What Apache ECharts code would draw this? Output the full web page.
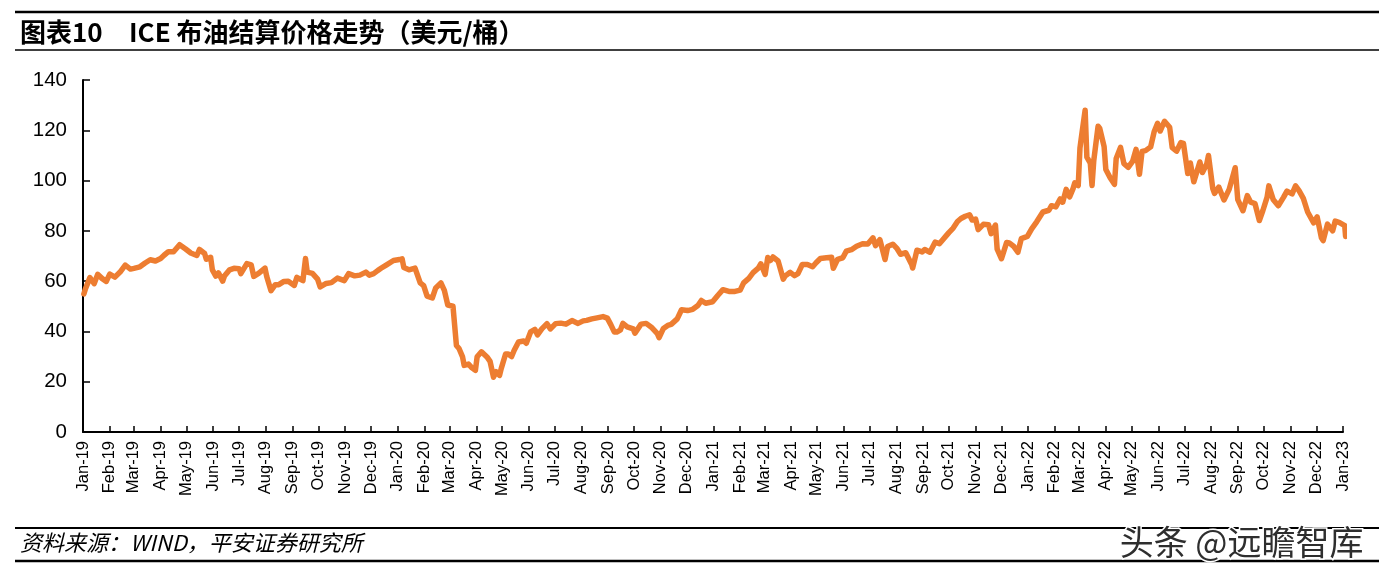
<!DOCTYPE html>
<html>
<head>
<meta charset="utf-8">
<script src="https://cdn.jsdelivr.net/npm/echarts@6/dist/echarts.min.js"></script>
<style>
html,body{margin:0;padding:0;background:#fff;}
#chart{width:1379px;height:574px;}
</style>
</head>
<body>
<div id="chart"></div>
<script>
const titleLead = '图表10';
const titleText = 'ICE 布油结算价格走势（美元/桶）';
const sourceText = '资料来源：WIND，平安证券研究所';
const watermarkText = '头条 @远瞻智库';
const seriesName = 'ICE布油结算价';

const monthLabels = ['Jan-19','Feb-19','Mar-19','Apr-19','May-19','Jun-19','Jul-19','Aug-19','Sep-19','Oct-19','Nov-19','Dec-19',
'Jan-20','Feb-20','Mar-20','Apr-20','May-20','Jun-20','Jul-20','Aug-20','Sep-20','Oct-20','Nov-20','Dec-20',
'Jan-21','Feb-21','Mar-21','Apr-21','May-21','Jun-21','Jul-21','Aug-21','Sep-21','Oct-21','Nov-21','Dec-21',
'Jan-22','Feb-22','Mar-22','Apr-22','May-22','Jun-22','Jul-22','Aug-22','Sep-22','Oct-22','Nov-22','Dec-22','Jan-23'];

const yTicks = [0,20,40,60,80,100,120,140];

const dates = [
'2019-01-02','2019-01-04','2019-01-09','2019-01-14','2019-01-18','2019-01-23','2019-01-28','2019-02-01','2019-02-07','2019-02-13','2019-02-19','2019-02-25',
'2019-03-01','2019-03-08','2019-03-14','2019-03-20','2019-03-26','2019-04-01','2019-04-05','2019-04-10','2019-04-16','2019-04-23','2019-04-25','2019-04-30',
'2019-05-06','2019-05-13','2019-05-16','2019-05-22','2019-05-24','2019-05-29','2019-05-31','2019-06-04','2019-06-07','2019-06-12','2019-06-14','2019-06-20','2019-06-25',
'2019-07-01','2019-07-03','2019-07-10','2019-07-15','2019-07-18','2019-07-24','2019-07-31','2019-08-02','2019-08-07','2019-08-12','2019-08-16','2019-08-22','2019-08-27',
'2019-09-03','2019-09-06','2019-09-13','2019-09-16','2019-09-18','2019-09-24','2019-09-30','2019-10-03','2019-10-10','2019-10-16','2019-10-23','2019-10-31',
'2019-11-05','2019-11-12','2019-11-18','2019-11-25','2019-11-29','2019-12-04','2019-12-09','2019-12-13','2019-12-19','2019-12-27',
'2020-01-03','2020-01-06','2020-01-08','2020-01-14','2020-01-21','2020-01-27','2020-01-31','2020-02-04','2020-02-10','2020-02-14','2020-02-20','2020-02-24','2020-02-28',
'2020-03-05','2020-03-09','2020-03-12','2020-03-16','2020-03-18','2020-03-23','2020-03-27','2020-03-31','2020-04-02','2020-04-07','2020-04-09','2020-04-14','2020-04-17',
'2020-04-21','2020-04-24','2020-04-28','2020-04-30','2020-05-05','2020-05-08','2020-05-12','2020-05-15','2020-05-20','2020-05-26','2020-05-29',
'2020-06-03','2020-06-08','2020-06-11','2020-06-16','2020-06-22','2020-06-26','2020-07-02','2020-07-08','2020-07-14','2020-07-21','2020-07-28',
'2020-08-03','2020-08-07','2020-08-13','2020-08-19','2020-08-26','2020-08-31','2020-09-04','2020-09-08','2020-09-11','2020-09-15','2020-09-18','2020-09-23','2020-09-30',
'2020-10-02','2020-10-09','2020-10-15','2020-10-21','2020-10-28','2020-10-30','2020-11-04','2020-11-09','2020-11-13','2020-11-20','2020-11-25',
'2020-12-02','2020-12-08','2020-12-14','2020-12-18','2020-12-23','2020-12-31',
'2021-01-06','2021-01-12','2021-01-19','2021-01-26','2021-02-01','2021-02-05','2021-02-11','2021-02-16','2021-02-22','2021-02-25',
'2021-03-02','2021-03-05','2021-03-08','2021-03-11','2021-03-17','2021-03-23','2021-03-25','2021-03-31','2021-04-05','2021-04-09','2021-04-14','2021-04-20','2021-04-26','2021-04-30',
'2021-05-05','2021-05-12','2021-05-18','2021-05-20','2021-05-25','2021-05-31','2021-06-04','2021-06-10','2021-06-16','2021-06-23','2021-06-29',
'2021-07-05','2021-07-08','2021-07-13','2021-07-19','2021-07-22','2021-07-28','2021-08-02','2021-08-06','2021-08-12','2021-08-19','2021-08-20','2021-08-25','2021-08-31',
'2021-09-03','2021-09-09','2021-09-15','2021-09-20','2021-09-28','2021-10-01','2021-10-06','2021-10-11','2021-10-15','2021-10-20','2021-10-25','2021-10-28',
'2021-11-01','2021-11-04','2021-11-10','2021-11-16','2021-11-19','2021-11-24','2021-11-26','2021-12-01','2021-12-07','2021-12-10','2021-12-15','2021-12-20','2021-12-24','2021-12-31',
'2022-01-05','2022-01-11','2022-01-18','2022-01-25','2022-01-28','2022-02-02','2022-02-07','2022-02-10','2022-02-14','2022-02-18','2022-02-22','2022-02-24','2022-02-28',
'2022-03-02','2022-03-04','2022-03-08','2022-03-10','2022-03-14','2022-03-16','2022-03-18','2022-03-23','2022-03-25','2022-03-30',
'2022-04-01','2022-04-06','2022-04-11','2022-04-13','2022-04-18','2022-04-22','2022-04-27','2022-05-02','2022-05-06','2022-05-10','2022-05-13','2022-05-17','2022-05-23','2022-05-27','2022-05-31',
'2022-06-03','2022-06-08','2022-06-14','2022-06-17','2022-06-22','2022-06-27','2022-06-30','2022-07-05','2022-07-08','2022-07-12','2022-07-14','2022-07-19','2022-07-22','2022-07-27','2022-07-29',
'2022-08-03','2022-08-05','2022-08-10','2022-08-16','2022-08-22','2022-08-29','2022-09-01','2022-09-07','2022-09-12','2022-09-16','2022-09-21','2022-09-26','2022-09-30',
'2022-10-05','2022-10-07','2022-10-12','2022-10-18','2022-10-24','2022-10-28','2022-11-03','2022-11-07','2022-11-11','2022-11-16','2022-11-21','2022-11-28',
'2022-12-02','2022-12-07','2022-12-09','2022-12-14','2022-12-20','2022-12-23','2022-12-28','2023-01-03','2023-01-04'
];

const brent = [
54.9,57.1,61.4,59.0,62.7,61.1,59.9,62.8,61.6,63.6,66.4,64.8,
65.1,65.7,67.2,68.5,68.0,69.0,70.3,71.7,71.7,74.5,74.6,72.8,
71.2,70.2,72.6,71.0,68.7,69.5,64.5,62.0,63.3,60.0,62.0,64.5,65.1,
64.9,63.0,67.0,66.5,61.9,63.2,65.2,61.9,56.2,58.6,58.6,59.9,60.0,
58.3,61.5,60.2,69.0,63.6,63.1,60.8,57.7,59.1,59.4,61.2,60.2,
63.0,62.1,62.4,63.6,62.4,63.0,64.3,65.2,66.5,68.2,
68.6,68.9,65.4,64.5,65.2,59.3,58.2,54.0,53.3,57.3,59.3,56.3,50.5,
50.0,34.4,33.2,30.0,26.5,27.0,25.5,24.5,29.9,31.9,31.5,29.6,28.1,
21.8,24.0,22.5,25.3,31.0,31.0,30.0,32.5,35.8,36.2,35.3,
39.8,40.8,38.6,41.0,43.1,41.0,43.1,43.3,42.9,44.3,43.2,
44.2,44.4,45.0,45.4,45.9,45.3,42.7,39.8,39.8,40.5,43.2,41.8,41.0,
39.3,42.9,43.2,41.7,39.1,37.5,41.2,42.4,42.8,45.0,48.6,
48.3,48.8,50.3,52.3,51.2,51.8,
54.3,56.6,55.9,55.9,56.4,59.3,61.1,63.4,65.2,66.9,
62.7,69.4,68.2,69.6,68.0,60.8,62.0,63.5,62.2,63.0,66.6,66.6,65.7,67.3,
69.0,69.3,69.5,65.1,68.7,69.3,71.9,72.5,73.9,74.9,74.8,
77.2,74.1,76.5,68.6,73.8,74.7,72.9,70.7,71.3,66.5,65.2,72.3,71.6,
72.6,71.5,75.5,74.9,78.1,79.3,81.1,83.7,84.9,85.8,86.4,84.3,
84.7,80.5,82.6,82.4,78.9,82.3,72.7,68.9,75.4,75.2,73.9,71.5,76.9,77.8,
80.8,83.7,87.5,88.2,90.0,89.5,92.7,91.4,96.5,93.5,96.8,99.1,98.0,
112.9,118.1,128.0,109.3,106.9,98.0,107.9,121.6,120.7,113.5,
104.4,101.1,98.5,108.8,113.2,106.7,105.3,107.6,112.4,102.5,111.6,111.9,113.4,119.4,122.8,
119.7,123.6,121.2,113.1,111.7,115.1,114.8,102.8,107.0,99.5,99.1,107.4,103.2,106.6,110.0,
96.8,94.9,97.4,92.3,96.5,105.1,92.4,88.0,94.0,91.4,90.8,84.1,88.0,
93.4,97.9,92.5,90.0,93.3,95.8,94.7,97.9,96.0,92.9,87.5,83.2,
85.6,77.2,76.1,82.7,80.0,83.9,83.3,82.1,77.8
];

const monIdx = {Jan:0,Feb:1,Mar:2,Apr:3,May:4,Jun:5,Jul:6,Aug:7,Sep:8,Oct:9,Nov:10,Dec:11};
function dayNum(y, m, d) { return Date.UTC(y, m, d) / 86400000; }
const tickDays = monthLabels.map(l => {
  const p = l.split('-');
  return dayNum(2000 + parseInt(p[1], 10), monIdx[p[0]], 1);
});
const labelByDay = {};
tickDays.forEach((t, i) => { labelByDay[t] = monthLabels[i]; });

const seriesData = dates.map((d, i) => {
  const p = d.split('-').map(Number);
  return [dayNum(p[0], p[1] - 1, p[2]), brent[i]];
});

const chart = echarts.init(document.getElementById('chart'), null, {renderer: 'canvas'});
const latin = '"Liberation Sans", Arial, sans-serif';
const cjk = '"Noto Sans CJK SC", "Liberation Sans", sans-serif';

chart.setOption({
  backgroundColor: '#ffffff',
  animation: false,
  grid: {left: 83, right: 36, top: 80, bottom: 142, containLabel: false},
  xAxis: {
    type: 'value',
    min: tickDays[0],
    max: tickDays[tickDays.length - 1],
    axisLine: {show: true, onZero: false, lineStyle: {color: '#000', width: 2}},
    axisTick: {show: true, inside: true, length: 6, lineStyle: {color: '#000', width: 1.5}, customValues: tickDays},
    axisLabel: {
      show: true, rotate: 90, color: '#000', fontSize: 16.5, fontFamily: latin, margin: 9,
      customValues: tickDays,
      formatter: function (v) { return labelByDay[Math.round(v)] || ''; }
    },
    splitLine: {show: false}
  },
  yAxis: {
    type: 'value',
    min: 0, max: 140, interval: 20,
    axisLine: {show: true, lineStyle: {color: '#000', width: 2}},
    axisTick: {show: true, inside: true, length: 7, lineStyle: {color: '#000', width: 1.5}},
    axisLabel: {color: '#000', fontSize: 20.5, fontFamily: latin, margin: 16,
      formatter: function (v) { return yTicks.indexOf(v) >= 0 ? String(v) : ''; }},
    splitLine: {show: false}
  },
  series: [{
    name: seriesName,
    type: 'line',
    data: seriesData,
    showSymbol: false,
    symbol: 'none',
    lineStyle: {color: '#ED7D31', width: 5.5, join: 'round', cap: 'round'},
    itemStyle: {color: '#ED7D31'}
  }],
  graphic: [
    {type: 'line', shape: {x1: 15, y1: 12, x2: 1379, y2: 12}, style: {stroke: '#000', lineWidth: 2.5}},
    {type: 'text', left: 20, top: 19, style: {text: titleLead, fill: '#000', font: 'bold 26px ' + cjk}},
    {type: 'text', left: 129, top: 19, style: {text: titleText, fill: '#000', font: 'bold 26px ' + cjk}},
    {type: 'line', shape: {x1: 15, y1: 50, x2: 1379, y2: 50}, style: {stroke: '#000', lineWidth: 1.5}},
    {type: 'line', shape: {x1: 15, y1: 528, x2: 1379, y2: 528}, style: {stroke: '#000', lineWidth: 2}},
    {type: 'text', left: 20, top: 532, style: {text: sourceText, fill: '#000', font: 'italic 22px ' + cjk}},
    {type: 'line', shape: {x1: 15, y1: 561, x2: 1379, y2: 561}, style: {stroke: '#000', lineWidth: 2.5}},
    {type: 'text', right: 14, top: 524, style: {text: watermarkText, fill: '#2e2e2e', font: '34px ' + cjk, stroke: '#ffffff', lineWidth: 3}}
  ]
});
</script>
</body>
</html>
